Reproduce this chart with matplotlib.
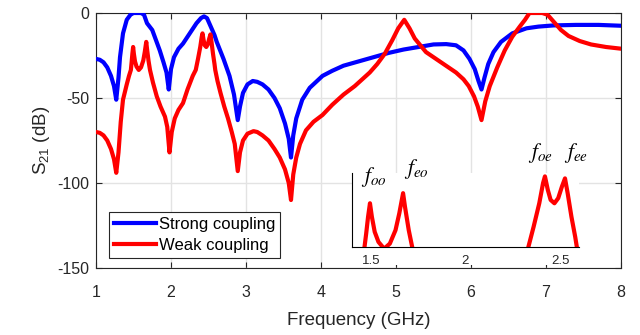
import matplotlib
matplotlib.use("Agg")
import matplotlib.pyplot as plt
from matplotlib.patches import Rectangle

plt.rcParams['font.family'] = ['Liberation Sans', 'DejaVu Sans']
plt.rcParams['mathtext.fontset'] = 'stix'
plt.rcParams['mathtext.default'] = 'regular'
plt.rcParams['axes.unicode_minus'] = False

# ---- data ----
freq_strong = [1.00, 1.05, 1.10, 1.15, 1.20, 1.24, 1.27, 1.30, 1.32, 1.36, 1.41, 1.46,
               1.50, 1.55, 1.60, 1.64, 1.68, 1.75, 1.80, 1.85, 1.90, 1.94, 1.97, 2.00,
               2.04, 2.10, 2.16, 2.25, 2.34, 2.40, 2.44, 2.48, 2.52, 2.58, 2.61, 2.70,
               2.78, 2.84, 2.89, 2.92, 2.96, 3.02, 3.09, 3.15, 3.22, 3.30, 3.38, 3.45,
               3.52, 3.57, 3.60, 3.63, 3.67, 3.75, 3.85, 4.02, 4.15, 4.30, 4.50, 4.70,
               4.90, 5.10, 5.30, 5.50, 5.67, 5.80, 5.90, 5.98, 6.05, 6.10, 6.14, 6.18,
               6.23, 6.30, 6.40, 6.55, 6.74, 6.90, 7.10, 7.40, 7.70, 8.00]
s21_strong = [-27, -27.5, -29, -32, -37, -43, -51, -38, -26, -12, -4, -1,
              0, 0, 0, -1, -6, -10, -16, -22, -29, -35, -45, -33,
              -26, -21, -18, -12, -6, -3, -2, -3, -7, -13, -17, -27,
              -37, -48, -63, -55, -47, -42, -40, -40.5, -42, -45, -50, -56,
              -65, -74, -85, -72, -62, -51, -44, -37, -34, -31, -28.5, -26,
              -23.5, -21.5, -20, -18.5, -18.3, -19, -22, -27, -33, -40, -45, -38,
              -30, -23, -17, -12, -9, -8, -7.3, -7, -7, -7.5]

freq_weak = [1.00, 1.05, 1.10, 1.15, 1.20, 1.24, 1.27, 1.30, 1.33, 1.36, 1.41, 1.44,
             1.465, 1.475, 1.485, 1.495, 1.505, 1.52, 1.54, 1.57, 1.60, 1.63, 1.65, 1.67,
             1.68, 1.70, 1.72, 1.76, 1.81, 1.86, 1.92, 1.95, 1.98, 2.01, 2.05, 2.10,
             2.16, 2.22, 2.29, 2.33, 2.36, 2.39, 2.41, 2.42, 2.435, 2.45, 2.47, 2.49,
             2.51, 2.526, 2.54, 2.56, 2.58, 2.59, 2.62, 2.66, 2.71, 2.76, 2.81, 2.85,
             2.89, 2.92, 2.96, 3.02, 3.10, 3.15, 3.22, 3.30, 3.38, 3.45, 3.52, 3.57,
             3.60, 3.63, 3.67, 3.72, 3.80, 3.90, 4.02, 4.15, 4.30, 4.45, 4.65, 4.75,
             4.85, 4.95, 5.03, 5.11, 5.18, 5.25, 5.40, 5.50, 5.60, 5.70, 5.80, 5.90,
             5.97, 6.04, 6.09, 6.14, 6.19, 6.25, 6.35, 6.45, 6.55, 6.65, 6.72, 6.78,
             6.85, 6.95, 7.02, 7.10, 7.20, 7.30, 7.45, 7.60, 7.80, 8.00]
s21_weak = [-70, -70.5, -72, -75, -80, -86, -94, -82, -64, -51, -42, -37,
            -33.5, -29, -24, -20, -24, -28.5, -31.5, -33.5, -32, -28, -23, -17,
            -21, -28, -33.5, -41, -49, -55, -61, -67, -82, -70, -62, -57,
            -53, -45, -37, -33.5, -27, -20, -14, -12, -16, -19, -20, -18.5,
            -15, -12.6, -17, -24, -30, -33.5, -40, -47, -55, -62, -70, -77,
            -93, -82, -75, -71, -69.5, -70, -72, -75, -80, -85, -92, -100,
            -110, -95, -85, -77, -69, -64, -60, -54, -48, -43, -35, -30,
            -24, -16, -9, -4, -9, -15, -23, -26, -29, -32, -35, -39,
            -43, -49, -55, -63, -52, -43, -32, -22, -14, -8, -4, 0,
            0, 0, -1, -5, -10, -13.5, -16.5, -18.5, -20, -21]

x_ticks = [1, 2, 3, 4, 5, 6, 7, 8]
y_ticks = [-150, -100, -50, 0]
inset_ticks = [1.5, 2, 2.5]
mode_labels = [r'$\mathit{f_{oo}}$', r'$\mathit{f_{eo}}$', r'$\mathit{f_{oe}}$', r'$\mathit{f_{ee}}$']
mode_freqs = [1.495, 1.67, 2.42, 2.526]
series_names = ['Strong coupling', 'Weak coupling']

W, H = 640, 335
fig = plt.figure(figsize=(6.4, 3.35), dpi=100)
ax = fig.add_axes([96 / W, 1 - 268 / H, (621 - 96) / W, (268 - 13) / H])

dark = '#262626'
ax.plot(freq_strong, s21_strong, color='#0000ff', lw=3.0, label=series_names[0], zorder=3)
ax.plot(freq_weak, s21_weak, color='#ff0000', lw=3.0, label=series_names[1], zorder=3)
ax.set_xlim(1, 8)
ax.set_ylim(-150, 0)
ax.set_xticks(x_ticks)
ax.set_yticks(y_ticks)
ax.grid(True, color='#e3e3e3', lw=1.0)
ax.set_axisbelow(True)
for s in ax.spines.values():
    s.set_color(dark)
    s.set_linewidth(0.8)
ax.tick_params(direction='in', length=4, width=0.8, top=True, right=True,
               colors=dark, labelsize=11.5)
ax.tick_params(axis='x', pad=12)
ax.tick_params(axis='y', pad=5)
ax.set_xlabel('Frequency (GHz)', fontsize=13.5, color=dark, labelpad=9)
ax.set_ylabel('S$_{21}$ (dB)', fontsize=13.5, color=dark, labelpad=4)

leg = ax.legend(loc='lower left', bbox_to_anchor=(13 / 525, 10 / 255), fontsize=12,
                frameon=True, fancybox=False, edgecolor=dark, framealpha=1,
                handlelength=2.5, handletextpad=0.2, borderpad=0.3, borderaxespad=0,
                labelspacing=0.35)
leg.get_frame().set_linewidth(0.8)
for ln in leg.get_lines():
    ln.set_linewidth(3)

# white strip below the inset (hides grid under the inset tick labels)
fig.patches.append(Rectangle((351 / W, 1 - 265 / H), (581 - 351) / W, (265 - 247) / H,
                             transform=fig.transFigure, facecolor='white',
                             edgecolor='none', zorder=1))

# ---- inset ----
axi = fig.add_axes([352 / W, 1 - 247 / H, (579 - 352) / W, (247 - 173) / H], zorder=2)
axi.set_facecolor('white')
axi.plot(freq_weak, s21_weak, color='#ff0000', lw=3.0, clip_on=True)
axi.set_xlim(1.4, 2.6)
axi.set_ylim(-33, -11)
axi.set_xticks(inset_ticks)
axi.set_xticklabels(['1.5', '2', '2.5'])
axi.set_yticks([])
axi.spines['top'].set_visible(False)
axi.spines['right'].set_visible(False)
axi.spines['left'].set_color('black')
axi.spines['bottom'].set_color('black')
axi.spines['left'].set_linewidth(0.8)
axi.spines['bottom'].set_linewidth(0.8)
axi.tick_params(axis='x', length=0, pad=6, labelsize=9.5, colors=dark)

label_offsets = [(3, 10), (9.5, 8), (-3.5, 8), (8, 9.5)]
label_y = [-20, -16.8, -12, -12.6]
for lab, fx, fy, (dx, dy) in zip(mode_labels, mode_freqs, label_y, label_offsets):
    axi.annotate(lab, xy=(fx, fy), xytext=(dx, dy), textcoords='offset points',
                 ha='center', va='bottom', fontsize=15.5, color='black',
                 annotation_clip=False)

fig.savefig('out.png', dpi=100)
